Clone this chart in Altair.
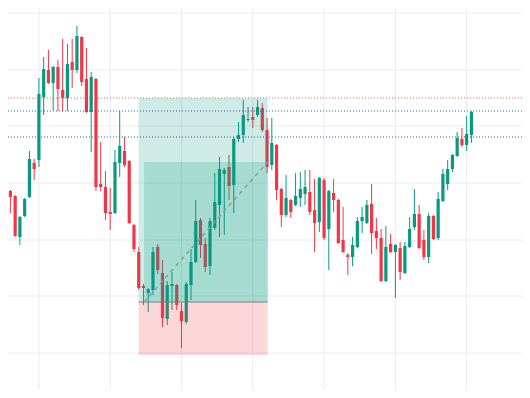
import altair as alt
import pandas as pd

# OHLC values (price units)
opens = [4826, 4809, 4804, 4763, 4784, 4803, 4837, 4840, 4903, 4930,
         4917, 4933, 4910, 4902, 4938, 4930, 4963, 4921, 4888, 4921,
         4816, 4813, 4788, 4787, 4837, 4849, 4839, 4775, 4748, 4714,
         4707, 4710, 4753, 4727, 4681, 4714, 4715, 4689, 4678, 4715,
         4738, 4780, 4756, 4734, 4772, 4795, 4826, 4833, 4815, 4861,
         4865, 4880, 4883, 4885, 4892, 4870, 4835, 4855, 4811, 4785,
         4800, 4795, 4802, 4806, 4808, 4790, 4778, 4820, 4771, 4807,
         4800, 4760, 4745, 4743, 4753, 4779, 4777, 4796, 4769, 4762,
         4719, 4756, 4748, 4752, 4727, 4753, 4773, 4786, 4760, 4743,
         4784, 4762, 4799, 4816, 4831, 4844, 4861, 4855, 4865]
highs = [4828, 4810, 4805, 4784, 4802, 4849, 4841, 4922, 4943, 4950,
         4934, 4940, 4961, 4956, 4961, 4974, 4964, 4952, 4928, 4922,
         4858, 4829, 4812, 4850, 4889, 4863, 4840, 4776, 4753, 4716,
         4712, 4753, 4756, 4740, 4719, 4728, 4716, 4697, 4718, 4751,
         4800, 4782, 4762, 4782, 4827, 4843, 4832, 4845, 4863, 4878,
         4900, 4893, 4893, 4900, 4897, 4882, 4882, 4856, 4812, 4825,
         4801, 4827, 4828, 4830, 4830, 4821, 4823, 4822, 4810, 4821,
         4801, 4793, 4747, 4763, 4783, 4793, 4800, 4816, 4782, 4771,
         4774, 4766, 4756, 4758, 4758, 4783, 4811, 4795, 4770, 4787,
         4785, 4808, 4831, 4840, 4846, 4868, 4872, 4884, 4889]
lows = [4805, 4787, 4763, 4755, 4783, 4802, 4820, 4833, 4885, 4916,
        4890, 4889, 4889, 4889, 4912, 4927, 4914, 4887, 4848, 4809,
        4809, 4780, 4770, 4786, 4823, 4833, 4776, 4748, 4710, 4695,
        4688, 4705, 4726, 4673, 4675, 4690, 4690, 4652, 4676, 4700,
        4737, 4742, 4728, 4725, 4770, 4763, 4765, 4800, 4787, 4858,
        4857, 4878, 4872, 4883, 4868, 4827, 4830, 4800, 4773, 4783,
        4782, 4794, 4793, 4795, 4785, 4748, 4768, 4760, 4730, 4788,
        4756, 4747, 4725, 4734, 4752, 4767, 4776, 4746, 4751, 4718,
        4718, 4747, 4702, 4720, 4726, 4752, 4770, 4751, 4740, 4737,
        4760, 4760, 4798, 4810, 4828, 4843, 4853, 4849, 4857]
closes = [4808, 4803, 4764, 4783, 4801, 4841, 4831, 4906, 4931, 4917,
          4933, 4911, 4902, 4936, 4930, 4964, 4918, 4888, 4923, 4813,
          4813, 4787, 4786, 4838, 4854, 4835, 4777, 4751, 4712, 4712,
          4711, 4748, 4730, 4682, 4715, 4716, 4695, 4679, 4716, 4738,
          4779, 4755, 4733, 4779, 4798, 4831, 4830, 4814, 4861, 4865,
          4885, 4881, 4880, 4893, 4870, 4833, 4857, 4810, 4785, 4802,
          4788, 4804, 4811, 4813, 4788, 4777, 4822, 4762, 4809, 4800,
          4757, 4748, 4743, 4755, 4779, 4783, 4795, 4767, 4762, 4719,
          4753, 4748, 4755, 4728, 4754, 4771, 4786, 4752, 4743, 4784,
          4761, 4801, 4826, 4831, 4845, 4862, 4855, 4866, 4888]

# horizontal level lines
level_red = [4902]
level_blue = [4889, 4863]

# long position tool
pos_left = [27.96]
pos_inner_left = [29.13]
pos_right = [55.13]
pos_target = [4902]
pos_entry = [4698]
pos_stop = [4645]
pos_current = [4838]

# grid positions
grid_x = [7, 22, 37, 52, 67, 82, 97]
grid_y = [4647, 4704, 4760, 4817, 4874, 4930, 4987]

GREEN = "#089981"
RED = "#F23645"
GRID = "#e9ecf1"

W, H = 514, 382
xscale = alt.Scale(domain=[1.547, 107.59], nice=False, zero=False)
yscale = alt.Scale(domain=[4610, 4992], nice=False, zero=False)

df = pd.DataFrame({"i": list(range(len(opens))), "open": opens, "high": highs,
                   "low": lows, "close": closes})
df["dir"] = ["up" if c >= o else "down" for o, c in zip(opens, closes)]

color = alt.Color("dir:N", scale=alt.Scale(domain=["up", "down"], range=[GREEN, RED]), legend=None)

vgrid = alt.Chart(pd.DataFrame({"g": grid_x})).mark_rule(color=GRID, strokeWidth=1).encode(
    x=alt.X("g:Q", scale=xscale, axis=None),
    y=alt.value(0), y2=alt.value(H))
hgrid = alt.Chart(pd.DataFrame({"g": grid_y})).mark_rule(color=GRID, strokeWidth=1).encode(
    y=alt.Y("g:Q", scale=yscale, axis=None),
    x=alt.value(0), x2=alt.value(W))

base = alt.Chart(df)

wicks = base.mark_rule(strokeWidth=1, clip=True).encode(
    x=alt.X("i:Q", scale=xscale, axis=None),
    y=alt.Y("low:Q", scale=yscale, axis=None),
    y2="high:Q",
    color=color,
)

bodies = base.mark_bar(size=3.2, clip=True).encode(
    x=alt.X("i:Q", scale=xscale, axis=None),
    y=alt.Y("open:Q", scale=yscale, axis=None),
    y2="close:Q",
    color=color,
)

pos = pd.DataFrame({"x1": pos_left, "x1i": pos_inner_left, "x2": pos_right,
                    "top": pos_target, "entry": pos_entry, "stop": pos_stop,
                    "cur": pos_current})
pbase = alt.Chart(pos)

profit = pbase.mark_rect(color=GREEN, opacity=0.2).encode(
    x=alt.X("x1:Q", scale=xscale, axis=None), x2="x2:Q",
    y=alt.Y("entry:Q", scale=yscale, axis=None), y2="top:Q")
progress = pbase.mark_rect(color=GREEN, opacity=0.2).encode(
    x=alt.X("x1i:Q", scale=xscale, axis=None), x2="x2:Q",
    y=alt.Y("entry:Q", scale=yscale, axis=None), y2="cur:Q")
loss = pbase.mark_rect(color=RED, opacity=0.2).encode(
    x=alt.X("x1:Q", scale=xscale, axis=None), x2="x2:Q",
    y=alt.Y("stop:Q", scale=yscale, axis=None), y2="entry:Q")
entry_line = pbase.mark_rule(color="#787b86", strokeWidth=1).encode(
    x=alt.X("x1:Q", scale=xscale, axis=None), x2="x2:Q",
    y=alt.Y("entry:Q", scale=yscale, axis=None))
diag = pbase.mark_rule(color="#8f9a9c", strokeWidth=1.5, strokeDash=[4, 4]).encode(
    x=alt.X("x1i:Q", scale=xscale, axis=None), x2="x2:Q",
    y=alt.Y("entry:Q", scale=yscale, axis=None), y2="cur:Q")

red_lines = alt.Chart(pd.DataFrame({"p": level_red})).mark_rule(
    color=RED, strokeWidth=1, strokeDash=[1, 2], opacity=0.8).encode(
    x=alt.value(0), x2=alt.value(W),
    y=alt.Y("p:Q", scale=yscale, axis=None))
blue_lines = alt.Chart(pd.DataFrame({"p": level_blue})).mark_rule(
    color="#2f5fc0", strokeWidth=1, strokeDash=[1, 2]).encode(
    x=alt.value(0), x2=alt.value(W),
    y=alt.Y("p:Q", scale=yscale, axis=None))

chart = alt.layer(vgrid, hgrid, wicks, bodies, profit, progress, loss, entry_line, diag,
                  red_lines, blue_lines).properties(
    width=W, height=H, padding=0,
    autosize=alt.AutoSizeParams(type="none"),
).configure_view(stroke=None)

chart.save("out.html", embed_options={"renderer": "svg", "actions": False})
